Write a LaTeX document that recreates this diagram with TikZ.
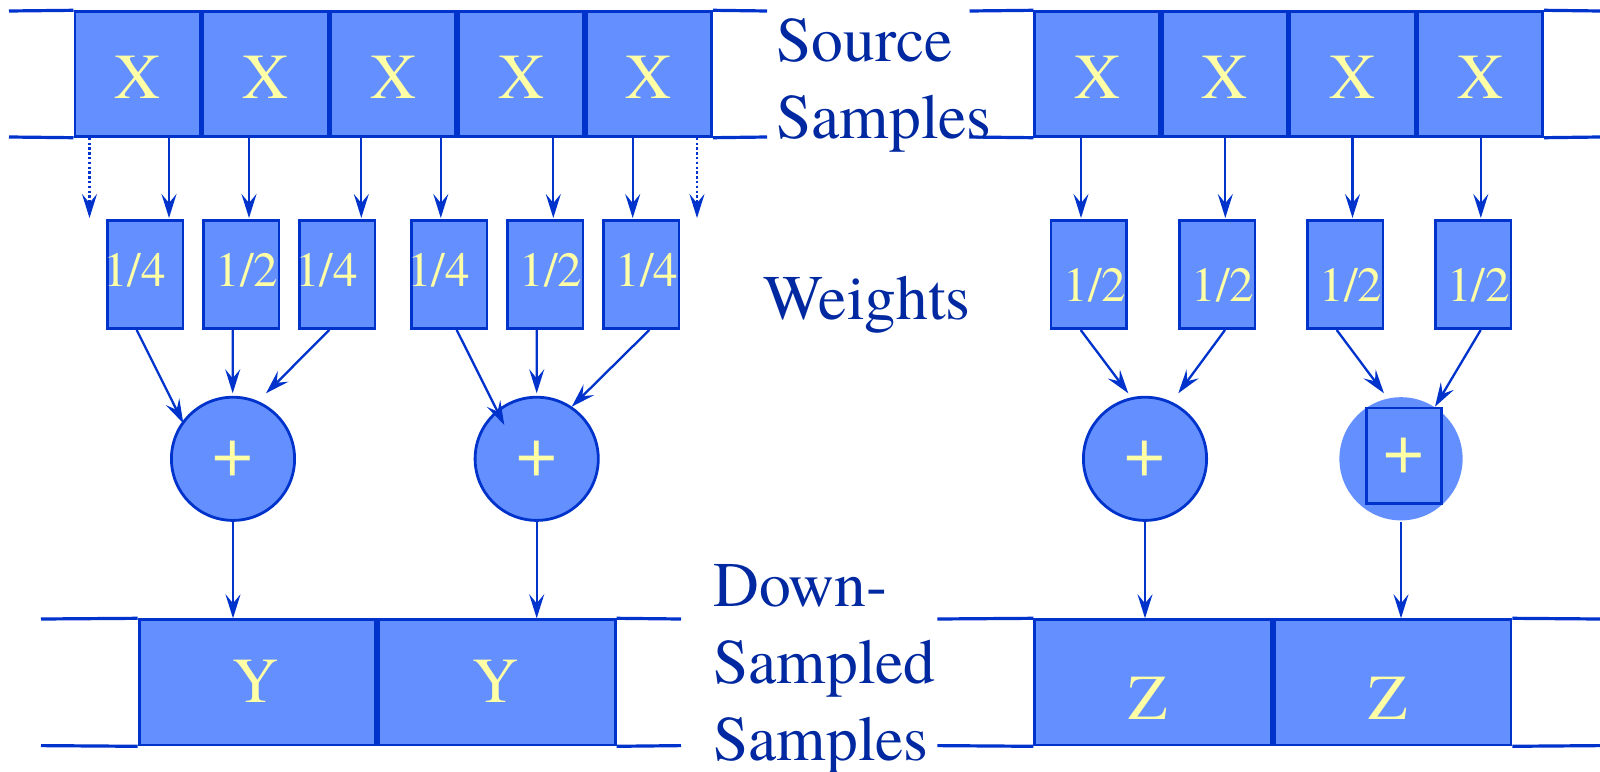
\documentclass[tikz,border=0pt]{standalone}
\usepackage{fontspec}
\setmainfont{texgyretermes}[Extension=.otf, UprightFont=*-regular,
  BoldFont=*-bold, ItalicFont=*-italic, BoldItalicFont=*-bolditalic]
\newfontfamily\tnr{texgyretermes}[Extension=.otf, UprightFont=*-regular]
\usetikzlibrary{arrows.meta}
\definecolor{cellfill}{RGB}{100,144,255}
\definecolor{cellline}{RGB}{0,51,204}
\definecolor{celltext}{RGB}{255,255,165}
\definecolor{labeltext}{RGB}{0,40,160}
\begin{document}
\begin{tikzpicture}[x=0.5pt, y=-0.5pt,
  cellbox/.style={draw=cellline, fill=cellfill, line width=1.4pt, inner sep=0pt},
  xcell/.style={cellbox, minimum width=62.55pt, minimum height=62.3pt},
  ycell/.style={cellbox, minimum width=118.35pt, minimum height=62.6pt},
  wcell/.style={cellbox, minimum width=37.9pt, minimum height=53.95pt},
  sumnode/.style={cellbox, circle, minimum size=61.6pt, text=celltext,
    font=\tnr\fontsize{36}{40}\selectfont},
  bigtext/.style={text=celltext, inner sep=0pt, font=\tnr\fontsize{32}{38}\selectfont},
  wtext/.style={text=celltext, inner sep=0pt, font=\tnr\fontsize{24.5}{29}\selectfont},
  sidelabel/.style={text=labeltext, inner sep=0pt, align=left,
    font=\tnr\fontsize{31.75}{38.5}\selectfont},
  stub/.style={draw=cellline, line width=1.6pt},
  arr/.style={draw=cellline, line width=1.15pt,
    -{Stealth[length=12pt, width=7.5pt, inset=4.5pt]}},
  dotarr/.style={arr, dash pattern=on 1.2pt off 1.2pt}
]
\useasboundingbox (0,0) rectangle (1600,771);

% ---------- source samples ----------
\foreach \i in {1,...,5}{
  \node[xcell] (xa\i) at ({73.5+127.9*(\i-0.5)},74) {};
  \node[bigtext, anchor=base] (xta\i) at ({73.5+127.9*(\i-0.5)},98.3) {X};
}
\foreach \i in {1,...,4}{
  \node[xcell] (xb\i) at ({1033.4+127.65*(\i-0.5)},74) {};
  \node[bigtext, anchor=base] (xtb\i) at ({1033.4+127.65*(\i-0.5)},98.3) {X};
}
\draw[stub] (9,11) -- (xa1.north west);
\draw[stub] (9,137) -- (xa1.south west);
\draw[stub] (xa5.north east) -- (767,11);
\draw[stub] (xa5.south east) -- (767,137);
\draw[stub] (969.5,11) -- (xb1.north west);
\draw[stub] (969.5,137) -- (xb1.south west);
\draw[stub] (xb4.north east) -- (1600,11);
\draw[stub] (xb4.south east) -- (1600,137);

% a multi-line node sits on the baseline of its last line
\node[sidelabel, anchor=base west] (srclabel) at (776,138) {Source\\Samples};

% ---------- weights ----------
\node[wcell] (wa1) at (145,274.65) {};
\node[wcell] (wa2) at (241,274.65) {};
\node[wcell] (wa3) at (337,274.65) {};
\node[wcell] (wa4) at (449,274.65) {};
\node[wcell] (wa5) at (545,274.65) {};
\node[wcell] (wa6) at (641,274.65) {};
\node[wcell] (wb1) at (1088.8,274.65) {};
\node[wcell] (wb2) at (1217,274.65) {};
\node[wcell] (wb3) at (1345,274.65) {};
\node[wcell] (wb4) at (1473,274.65) {};

\node[wtext, anchor=base] (wta1) at (134.7,286.7) {1/4};
\node[wtext, anchor=base] (wta2) at (246.9,286.7) {1/2};
\node[wtext, anchor=base] (wta3) at (326.5,286.7) {1/4};
\node[wtext, anchor=base] (wta4) at (438.7,286.7) {1/4};
\node[wtext, anchor=base] (wta5) at (550.9,286.7) {1/2};
\node[wtext, anchor=base] (wta6) at (646.9,286.7) {1/4};
\node[wtext, anchor=base] (wtb1) at (1095,301.7) {1/2};
\node[wtext, anchor=base] (wtb2) at (1223,301.7) {1/2};
\node[wtext, anchor=base] (wtb3) at (1350.9,301.7) {1/2};
\node[wtext, anchor=base] (wtb4) at (1478.5,301.7) {1/2};

\node[sidelabel, anchor=base west] (wlabel) at (763,319.3) {Weights};

% arrow tips at the weight row
\coordinate (dl) at (89.5,218);
\coordinate (dr) at (697,218);
\coordinate (ta1) at (169,218);
\coordinate (ta2) at (249,218);
\coordinate (ta3) at (361.3,218);
\coordinate (ta4) at (440.8,218);
\coordinate (ta5) at (553.3,218);
\coordinate (ta6) at (632.7,218);
\coordinate (tb1) at (1081,218);
\coordinate (tb2) at (1225.3,218);
\coordinate (tb3) at (1352.5,218);
\coordinate (tb4) at (1480.8,218);

\draw[dotarr] (xa1.south -| dl) -- (dl);
\draw[arr] (xa1.south -| ta1) -- (ta1);
\draw[arr] (xa2.south -| ta2) -- (ta2);
\draw[arr] (xa3.south -| ta3) -- (ta3);
\draw[arr] (xa3.south -| ta4) -- (ta4);
\draw[arr] (xa4.south -| ta5) -- (ta5);
\draw[arr] (xa5.south -| ta6) -- (ta6);
\draw[dotarr] (xa5.south -| dr) -- (dr);
\draw[arr] (xb1.south -| tb1) -- (tb1);
\draw[arr] (xb2.south -| tb2) -- (tb2);
\draw[arr] (xb3.south -| tb3) -- (tb3);
\draw[arr] (xb4.south -| tb4) -- (tb4);

% ---------- summing nodes ----------
\node[sumnode] (sa1) at (233,458.8) {+};
\node[sumnode] (sa2) at (536.7,458.8) {+};
\node[sumnode] (sb1) at (1145,458.8) {+};
\node[sumnode, draw=none] (sb2) at (1401,458.8) {};
\node[cellbox, minimum width=37.4pt, minimum height=47.85pt, text=celltext,
  font=\tnr\fontsize{36}{40}\selectfont] (sq) at (1404,455.8) {+};

\coordinate (pa1) at (183.3,423.3);
\coordinate (pa2) at (232.7,393.3);
\coordinate (pa3) at (266,393.3);
\coordinate (pa4) at (504.3,425);
\coordinate (pa5) at (536.7,393.3);
\coordinate (pa6) at (571.7,406.7);
\coordinate (pb1) at (1128.3,393.3);
\coordinate (pb2) at (1178.3,393.3);
\coordinate (pb3) at (1384,393.3);
\coordinate (pb4) at (1435,406.7);

\draw[arr] ([xshift=-4.15pt]wa1.south) -- (pa1);
\draw[arr] ([xshift=-4.15pt]wa2.south) -- (pa2);
\draw[arr] ([xshift=-3.85pt]wa3.south) -- (pa3);
\draw[arr] ([xshift=3.85pt]wa4.south) -- (pa4);
\draw[arr] ([xshift=-4.15pt]wa5.south) -- (pa5);
\draw[arr] ([xshift=4.15pt]wa6.south) -- (pa6);
\draw[arr] ([xshift=-4.05pt]wb1.south) -- (pb1);
\draw[arr] ([xshift=4pt]wb2.south) -- (pb2);
\draw[arr] ([xshift=-4.15pt]wb3.south) -- (pb3);
\draw[arr] ([xshift=3.85pt]wb4.south) -- (pb4);

% ---------- down-sampled samples ----------
\node[ycell] (ya1) at (257.45,682.3) {};
\node[ycell] (ya2) at (496.95,682.3) {};
\node[ycell] (yb1) at (1153.05,682.3) {};
\node[ycell] (yb2) at (1392.55,682.3) {};
\node[bigtext, anchor=base] (yta1) at (256,702.7) {Y};
\node[bigtext, anchor=base] (yta2) at (496,702.7) {Y};
\node[bigtext, anchor=base] (ytb1) at (1148.3,719.3) {Z};
\node[bigtext, anchor=base] (ytb2) at (1388,719.3) {Z};

\draw[stub] (41,619) -- (ya1.north west);
\draw[stub] (41,745.6) -- (ya1.south west);
\draw[stub] (ya2.north east) -- (681,619);
\draw[stub] (ya2.south east) -- (681,745.6);
\draw[stub] (937.3,619) -- (yb1.north west);
\draw[stub] (937.3,745.6) -- (yb1.south west);
\draw[stub] (yb2.north east) -- (1600,619);
\draw[stub] (yb2.south east) -- (1600,745.6);

\draw[arr] (sa1.south) -- (sa1.south |- ya1.north);
\draw[arr] (sa2.south) -- (sa2.south |- ya2.north);
\draw[arr] (sb1.south) -- (sb1.south |- yb1.north);
\draw[arr] (sb2.south) -- (sb2.south |- yb2.north);

\node[sidelabel, anchor=base west] (dlabel) at (713,760) {Down-\\Sampled\\Samples};
\end{tikzpicture}
\end{document}
